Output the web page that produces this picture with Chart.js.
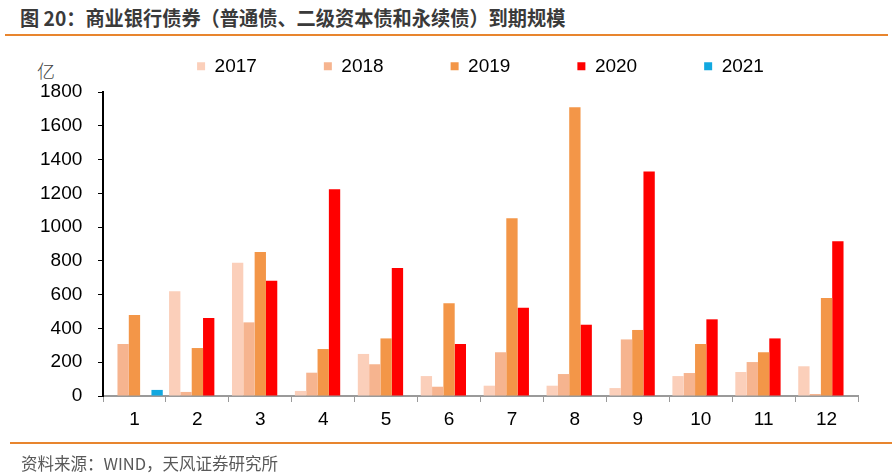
<!DOCTYPE html>
<html>
<head>
<meta charset="utf-8">
<script src="https://cdn.jsdelivr.net/npm/chart.js@4.4.0/dist/chart.umd.min.js"></script>
<style>
  body { margin: 0; background: #fff; }
  #wrap { position: relative; width: 892px; height: 476px; overflow: hidden; }
  #title { position: absolute; left: 20px; top: 3px; font: bold 20px "Noto Sans CJK SC", sans-serif; color: #3a3a3a; white-space: nowrap; transform: scaleX(0.96); transform-origin: left top; }
  .rule { position: absolute; height: 2px; background: #e8852e; }
  #unit { position: absolute; left: 37px; top: 57px; font: 300 18px "Noto Sans CJK SC", sans-serif; color: #444; }
  #source { position: absolute; left: 21px; top: 451px; font: 16.5px "Noto Sans CJK SC", sans-serif; color: #595959; white-space: nowrap; }
  #chartBox { position: absolute; left: 0; top: 0; width: 892px; height: 476px; }
</style>
</head>
<body>
<div id="wrap">
  <div id="title">图 20：商业银行债券（普通债、二级资本债和永续债）到期规模</div>
  <div class="rule" style="left:5px; width:883px; top:34px;"></div>
  <div id="unit">亿</div>
  <div id="chartBox"><canvas id="c" width="892" height="476"></canvas></div>
  <div class="rule" style="left:10px; width:882px; top:442px;"></div>
  <div id="source">资料来源：WIND，天风证券研究所</div>
</div>
<script>
// months on the x axis
const months = ['1', '2', '3', '4', '5', '6', '7', '8', '9', '10', '11', '12'];

// maturity scale per year (亿)
const y2017 = [0, 620, 789, 30, 249, 118, 61, 61, 47, 118, 142, 176];
const y2018 = [308, 24, 436, 138, 188, 55, 259, 130, 335, 136, 201, 12];
const y2019 = [480, 284, 852, 278, 341, 549, 1052, 1709, 391, 308, 259, 580];
const y2020 = [0, 462, 683, 1224, 758, 308, 523, 422, 1330, 454, 341, 916];
const y2021 = [36, 0, 0, 0, 0, 0, 0, 0, 0, 0, 0, 0];

const yTicks = [0, 200, 400, 600, 800, 1000, 1200, 1400, 1600, 1800];

const FONT = '"Liberation Sans", Arial, sans-serif';

function ds(label, data, color) {
  return { label: label, data: data, backgroundColor: color, borderWidth: 0 };
}

new Chart(document.getElementById('c'), {
  type: 'bar',
  data: {
    labels: months,
    datasets: [
      ds('2017', y2017, '#fbcfba'),
      ds('2018', y2018, '#f6b48f'),
      ds('2019', y2019, '#f39648'),
      ds('2020', y2020, '#ff0000'),
      ds('2021', y2021, '#12a8e0')
    ]
  },
  options: {
    responsive: false,
    animation: false,
    devicePixelRatio: 1,
    // y labels are mirrored and pushed back out to the left, so the
    // left padding can start at the axis and keep the legend centred over the plot
    layout: { padding: { left: 103, right: 34, top: -16, bottom: 0 } },
    datasets: { bar: { categoryPercentage: 0.9, barPercentage: 1.0 } },
    plugins: {
      legend: {
        position: 'top',
        weight: 2500,
        labels: {
          font: { family: FONT, size: 19 },
          color: '#000',
          boxWidth: 8,
          boxHeight: 8,
          padding: 67
        }
      },
      // blank title used only as a small gap between legend and plot
      title: {
        display: true,
        text: ' ',
        font: { size: 1 },
        padding: { top: 0, bottom: 5 }
      },
      tooltip: { enabled: false }
    },
    scales: {
      x: {
        grid: { drawOnChartArea: false, drawTicks: true, tickLength: 6, color: '#9a9a9a', offset: true },
        border: { color: '#9a9a9a', width: 2 },
        ticks: { font: { family: FONT, size: 19 }, color: '#000', padding: 6 },
        afterFit: s => { s.height = 80; }
      },
      y: {
        min: 0,
        max: 1800,
        afterBuildTicks: s => { s.ticks = yTicks.map(v => ({ value: v })); },
        grid: { drawOnChartArea: false, drawTicks: true, tickLength: 5, color: '#000' },
        border: { color: '#000', width: 2 },
        ticks: {
          font: { family: FONT, size: 19 }, color: '#000',
          mirror: true, crossAlign: 'far', padding: -63,
          callback: v => String(v)
        },
        afterFit: s => { s.width = 0; s.paddingTop = 92; }
      }
    }
  }
});
</script>
</body>
</html>
